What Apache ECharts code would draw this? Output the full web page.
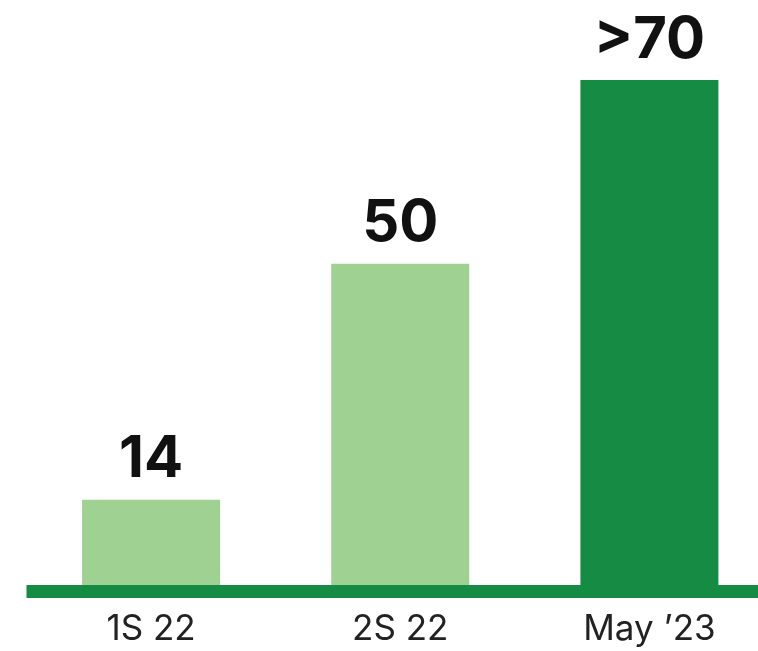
<!DOCTYPE html>
<html>
<head>
<meta charset="utf-8">
<style>
  html, body { margin: 0; padding: 0; background: #fff; overflow: hidden; }
  #chart { width: 774px; height: 651px; }
</style>
<script src="https://cdn.jsdelivr.net/npm/echarts@6/dist/echarts.min.js"></script>
</head>
<body>
<div id="chart"></div>
<script>
  // data
  var categories = ["1S 22", "2S 22", "May \u201923"];
  var values = [14, 50, 78];
  var valueLabels = ["14", "50", ">70"];
  var barColors = ["#9fd193", "#9fd193", "#168b44"];

  // the chart is a bit wider than the window, its right end is cut off
  var myChart = echarts.init(document.getElementById("chart"));
  var option = {
    animation: false,
    grid: { left: 26.5, right: 0, top: 67, bottom: 59.5 },
    xAxis: {
      type: "category",
      data: categories,
      z: 5,
      axisLine: { lineStyle: { color: "#168b44", width: 13, cap: "butt" } },
      axisTick: { show: false },
      axisLabel: {
        margin: 20,
        color: "#222",
        fontFamily: "Inter",
        fontSize: 35
      }
    },
    yAxis: {
      type: "value",
      min: 0,
      max: 80,
      show: false,
      splitLine: { show: false }
    },
    series: [{
      type: "bar",
      barWidth: 138,
      data: values.map(function (v, i) {
        return { value: v, itemStyle: { color: barColors[i] } };
      }),
      label: {
        show: true,
        position: "top",
        distance: 11,
        color: "#111",
        fontFamily: "Inter",
        fontWeight: "bold",
        fontSize: 58,
        formatter: function (p) { return valueLabels[p.dataIndex]; }
      }
    }]
  };
  myChart.setOption(option);
</script>
</body>
</html>
